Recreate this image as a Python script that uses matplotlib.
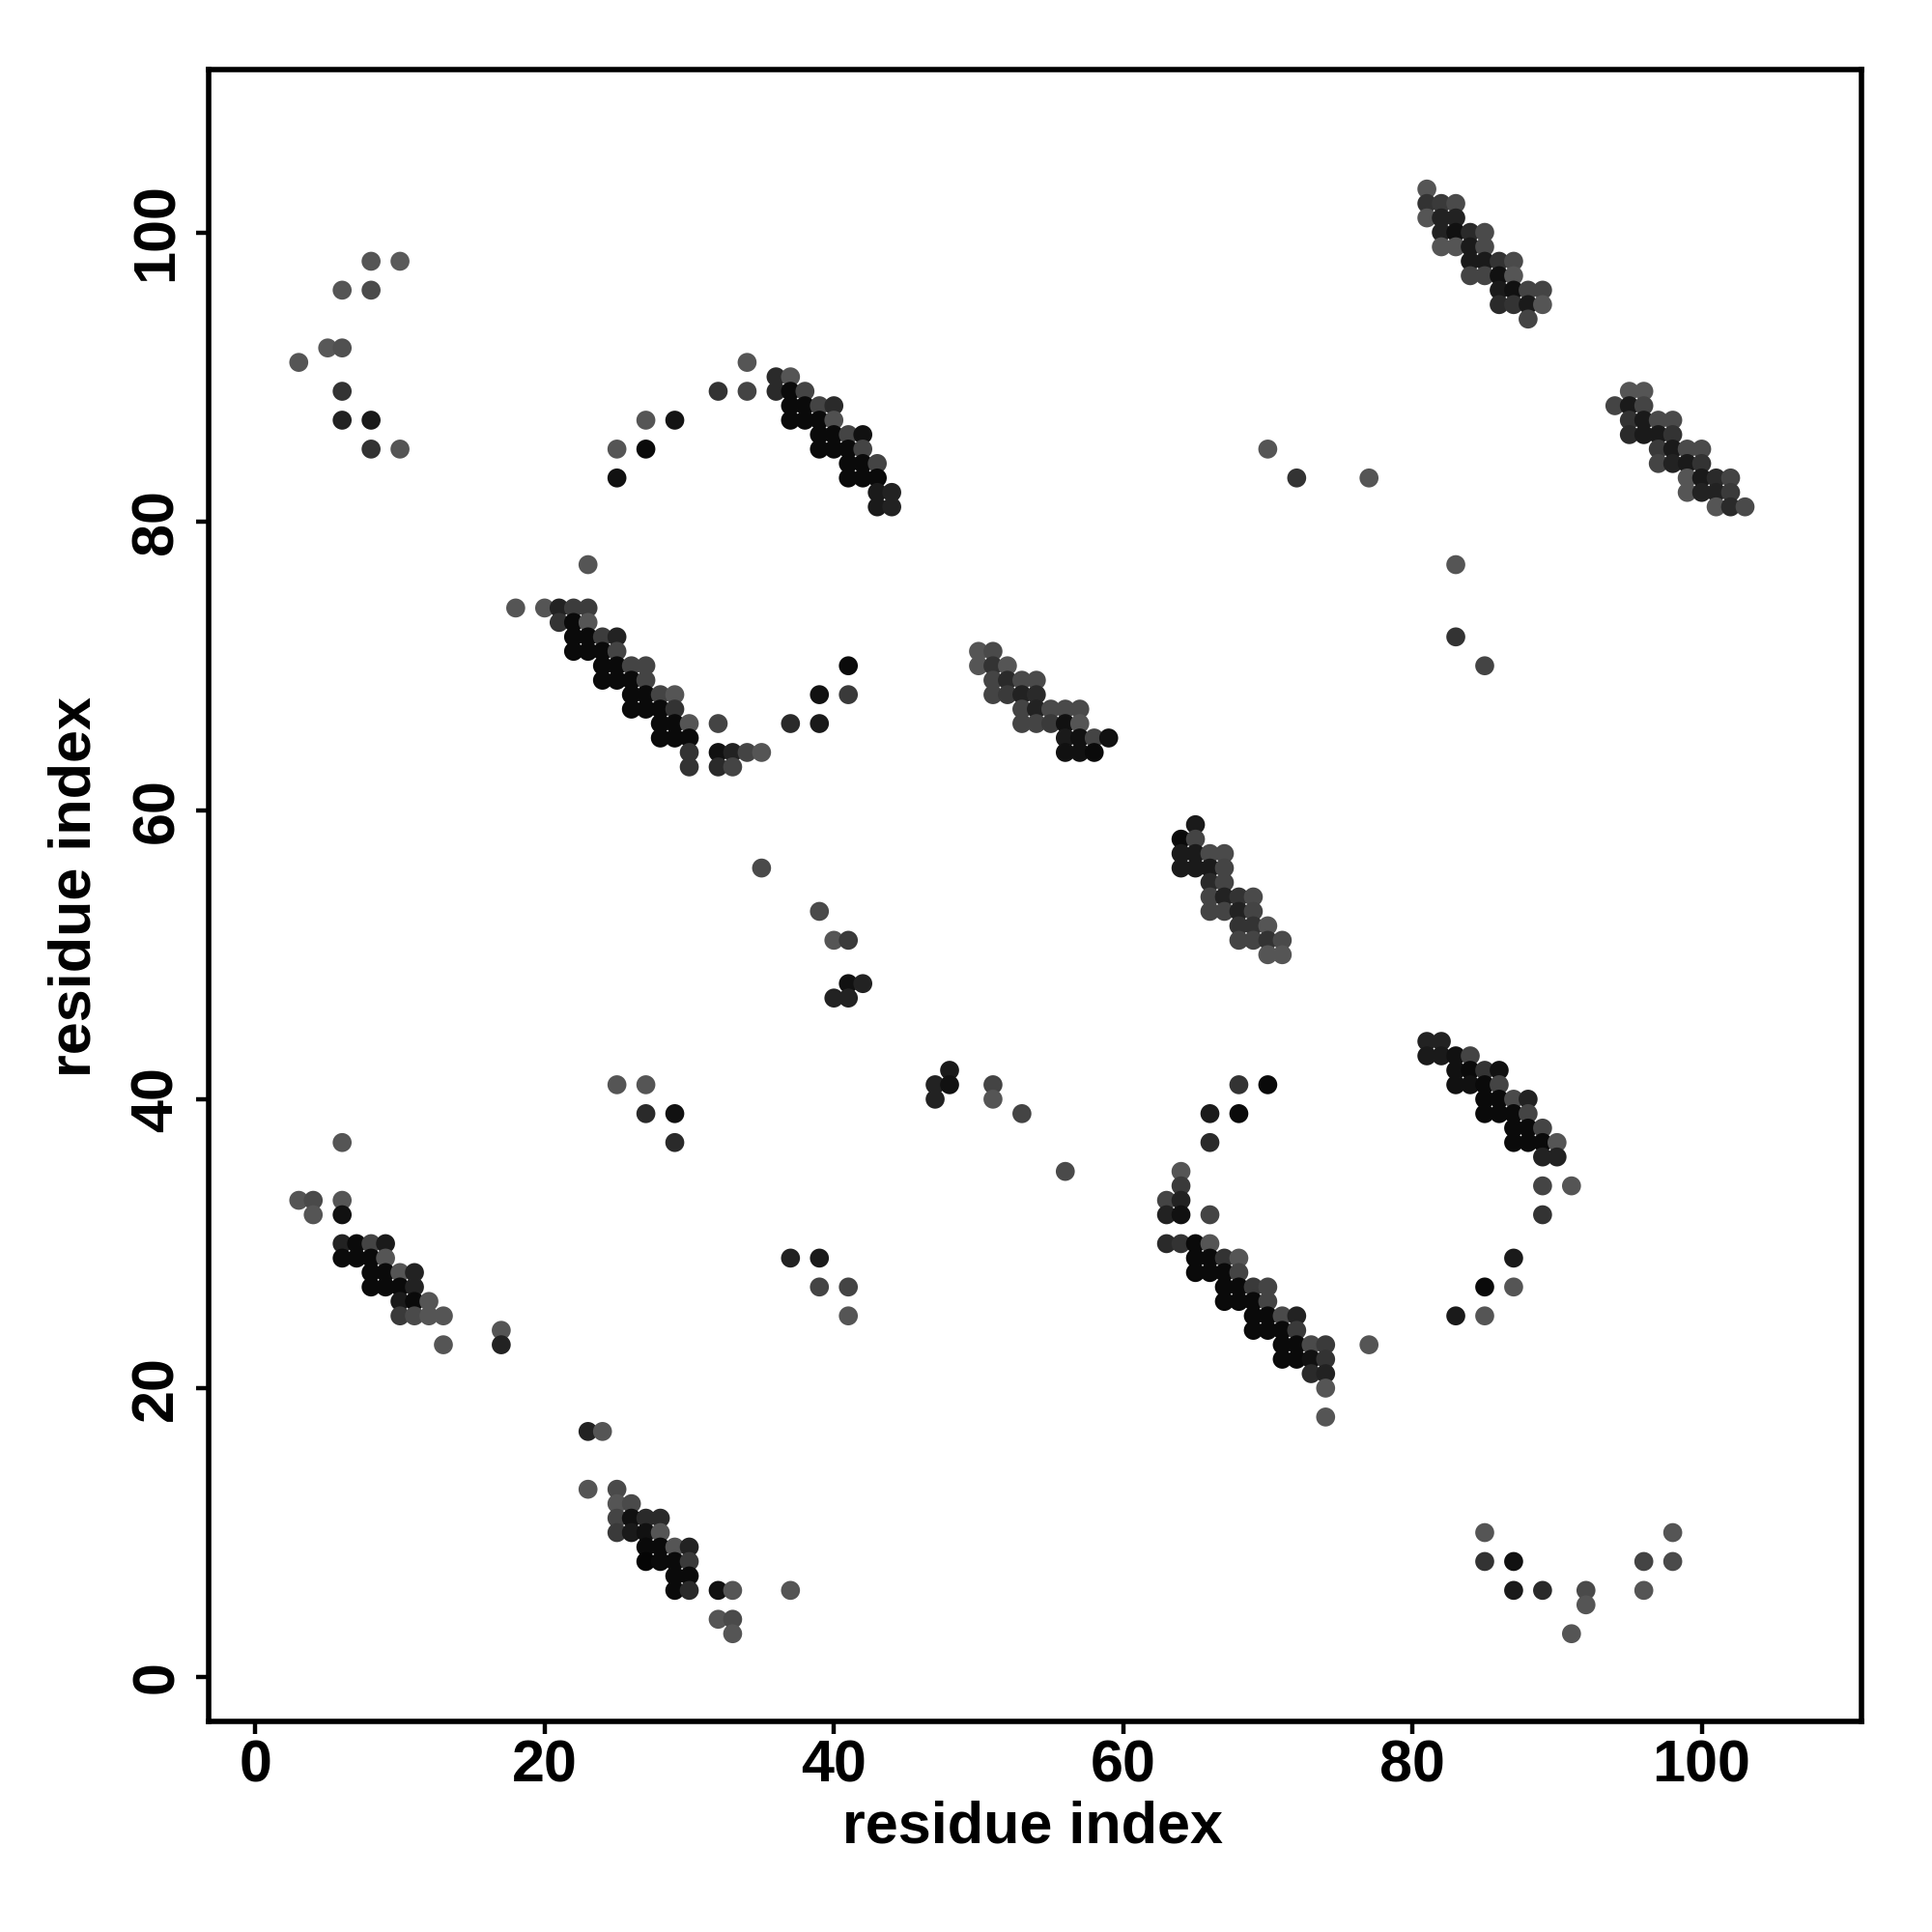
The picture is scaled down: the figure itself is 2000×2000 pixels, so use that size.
import matplotlib
matplotlib.use("Agg")
import matplotlib.pyplot as plt

# Contacts: (residue i, residue j, gray level 0-255)
top_left = [(8,98,85),(10,98,90),(6,96,85),(8,96,75),(5,92,88),(6,92,80),(3,91,85),
            (6,89,51),(6,87,34),(8,87,26),(8,85,51),(10,85,85)]

strand_a = [(23,77,85),(18,74,85),(20,74,85),(21,74,34),(22,74,60),(23,74,60),
            (21,73,51),(22,73,10),(23,73,85),
            (22,72,10),(23,72,10),(24,72,60),(25,72,34),
            (22,71,10),(23,71,10),(24,71,10),(25,71,68),
            (24,70,10),(25,70,10),(26,70,68),(27,70,68),
            (24,69,10),(25,69,10),(26,69,10),(27,69,68),
            (26,68,10),(27,68,10),(28,68,68),(29,68,85),
            (26,67,10),(27,67,10),(28,67,10),(29,67,51),
            (28,66,10),(29,66,10),(30,66,85),
            (28,65,10),(29,65,10),(30,65,10),
            (30,64,51),(30,63,51)]

strand_a_tail = [(32,66,68),(32,64,17),(33,64,34),(34,64,68),(35,64,85),(32,63,42),(33,63,68),
                 (37,66,42),(39,66,26),(39,68,17),(41,68,58),(41,70,10)]

strand_b = [(34,91,85),(32,89,51),(34,89,68),(36,90,42),(37,90,85),(36,89,42),(37,89,10),(38,89,68),
            (37,88,10),(38,88,10),(39,88,68),(40,88,42),
            (37,87,10),(38,87,10),(39,87,10),(40,87,80),
            (39,86,10),(40,86,10),(41,86,68),(42,86,17),
            (39,85,10),(40,85,10),(41,85,10),(42,85,68),
            (41,84,10),(42,84,10),(43,84,68),
            (41,83,10),(42,83,10),(43,83,10),
            (43,82,26),(44,82,34),(43,81,26),(44,81,34),
            (25,85,85),(25,83,17),(27,87,85),(27,85,10),(29,87,20)]

strand_c = [(50,71,85),(51,71,74),(50,70,85),(51,70,51),(52,70,85),
            (51,69,68),(52,69,42),(53,69,74),(54,69,74),
            (51,68,68),(52,68,58),(53,68,34),(54,68,42),
            (53,67,68),(54,67,34),(55,67,74),(56,67,74),(57,67,74),
            (53,66,68),(54,66,68),(55,66,58),(56,66,17),(57,66,85),
            (56,65,26),(57,65,17),(58,65,68),(59,65,17),
            (56,64,17),(57,64,17),(58,64,10)]

strand_d = [(65,59,26),(64,58,10),(65,58,68),(64,57,26),(65,57,26),(66,57,74),(67,57,74),
            (64,56,26),(65,56,26),(66,56,26),(67,56,68),(66,55,42),(67,55,68),
            (66,54,68),(67,54,34),(68,54,51),(69,54,74),
            (66,53,68),(67,53,68),(68,53,34),(69,53,68),
            (68,52,51),(69,52,51),(70,52,85),
            (68,51,68),(69,51,68),(70,51,51),(71,51,74),
            (70,50,85),(71,50,85)]

strand_e = [(81,103,85),(81,102,51),(82,102,58),(83,102,74),(81,101,85),(82,101,34),(83,101,34),
            (82,100,34),(83,100,17),(84,100,42),(85,100,74),
            (82,99,85),(83,99,85),(84,99,26),(85,99,74),
            (84,98,26),(85,98,26),(86,98,51),(87,98,74),
            (84,97,68),(85,97,68),(86,97,17),(87,97,85),
            (86,96,26),(87,96,17),(88,96,68),(89,96,68),
            (86,95,42),(87,95,51),(88,95,26),(89,95,85),(88,94,68)]

strand_f = [(95,89,85),(96,89,85),(94,88,68),(95,88,26),(96,88,68),
            (95,87,51),(96,87,26),(97,87,74),(98,87,74),
            (95,86,42),(96,86,26),(97,86,26),(98,86,51),
            (97,85,58),(98,85,26),(99,85,74),(100,85,74),
            (97,84,68),(98,84,34),(99,84,26),(100,84,51),
            (99,83,85),(100,83,26),(101,83,42),(102,83,68),
            (99,82,85),(100,82,34),(101,82,34),(102,82,58),
            (101,81,85),(102,81,42),(103,81,74)]

scatter_upper = [(70,85,85),(72,83,51),(77,83,85),(83,77,85),(83,72,51),(85,70,68)]

scatter_mid = [(35,56,74),(39,53,74),(40,51,85),(41,51,58),(41,48,17),(42,48,34),(40,47,34),(41,47,34),
               (48,42,26),(47,41,34),(48,41,17),(47,40,34),(51,41,68),(51,40,85),(53,39,68),(56,35,74),
               (37,29,34),(39,29,26),(39,27,68),(41,27,68),(41,25,85)]

strand_g = [(25,41,85),(27,41,85),(27,39,42),(29,39,17),(29,37,42),
            (6,37,85),(3,33,85),(4,33,74),(6,33,85),(4,32,85),(6,32,17),
            (6,30,34),(7,30,10),(8,30,68),(9,30,26),
            (6,29,10),(7,29,10),(8,29,10),(9,29,85),
            (8,28,10),(9,28,10),(10,28,85),(11,28,34),
            (8,27,10),(9,27,10),(10,27,10),(11,27,34),
            (10,26,26),(11,26,10),(12,26,85),
            (10,25,58),(11,25,74),(12,25,85),(13,25,85),
            (13,23,85),(17,24,85),(17,23,34)]

strand_h = [(23,17,34),(24,17,85),(23,13,85),(25,13,74),(25,12,85),(26,12,74),
            (25,11,68),(26,11,17),(27,11,42),(28,11,42),
            (25,10,58),(26,10,26),(27,10,17),(28,10,85),
            (27,9,10),(28,9,10),(29,9,85),(30,9,34),
            (27,8,5),(28,8,10),(29,8,10),(30,8,58),
            (29,7,10),(30,7,10),(29,6,10),(30,6,42),
            (32,6,17),(33,6,85),(37,6,85),(32,4,85),(33,4,74),(33,3,85)]

strand_i = [(68,41,51),(70,41,10),(66,39,26),(68,39,10),(66,37,42),
            (64,35,85),(64,34,58),(63,33,68),(64,33,34),(63,32,34),(64,32,17),(66,32,68),
            (63,30,42),(64,30,51),(65,30,10),(66,30,85),
            (65,29,10),(66,29,10),(67,29,51),(68,29,85),
            (65,28,10),(66,28,10),(67,28,10),(68,28,68),
            (67,27,10),(68,27,10),(69,27,58),(70,27,68),
            (67,26,10),(68,26,10),(69,26,10),(70,26,68),
            (69,25,10),(70,25,10),(71,25,74),(72,25,34),
            (69,24,10),(70,24,10),(71,24,10),(72,24,58),
            (71,23,10),(72,23,10),(73,23,74),(74,23,58),
            (71,22,10),(72,22,10),(73,22,17),(74,22,51),
            (73,21,42),(74,21,34),(74,20,85),(74,18,85),(77,23,85)]

strand_j = [(81,44,34),(82,44,34),(81,43,26),(82,43,26),(83,43,17),(84,43,68),
            (83,42,17),(84,42,10),(85,42,51),(86,42,17),
            (83,41,17),(84,41,17),(85,41,10),(86,41,68),
            (85,40,10),(86,40,10),(87,40,74),(88,40,34),
            (85,39,10),(86,39,10),(87,39,10),(88,39,68),
            (87,38,10),(88,38,10),(89,38,68),
            (87,37,10),(88,37,10),(89,37,10),(90,37,85),
            (89,36,34),(90,36,34),(89,34,68),(91,34,85),(89,32,51),
            (87,29,26),(85,27,10),(87,27,85),(83,25,26),(85,25,85)]

scatter_low = [(85,10,85),(85,8,51),(87,8,17),(87,6,26),(89,6,42),(92,6,74),(92,5,85),
               (91,3,85),(96,8,68),(98,8,74),(98,10,85),(96,6,85)]

groups = [top_left, strand_a, strand_a_tail, strand_b, strand_c, strand_d, strand_e,
          strand_f, scatter_upper, scatter_mid, strand_g, strand_h, strand_i,
          strand_j, scatter_low]

ticks = [0, 20, 40, 60, 80, 100]
axis_label = "residue index"

pts = [p for g in groups for p in g]
pts.sort(key=lambda p: (p[0], -p[1]))
xs = [p[0] for p in pts]
ys = [p[1] for p in pts]
cols = [(p[2] / 255.0,) * 3 for p in pts]

plt.rcParams['font.family'] = ['Liberation Sans', 'DejaVu Sans']
fig = plt.figure(figsize=(10, 10), dpi=200)
ax = fig.add_axes([0.108, 0.109, 0.9635 - 0.108, 0.964 - 0.109])
ax.scatter(xs, ys, s=50, c=cols, marker='o', linewidths=0)

ax.set_xlim(-3.23, 111.05)
ax.set_ylim(-3.07, 111.27)
ax.set_xticks(ticks)
ax.set_yticks(ticks)
ax.set_xticklabels([str(t) for t in ticks], fontsize=22, fontweight='bold')
ax.set_yticklabels([str(t) for t in ticks], fontsize=22, fontweight='bold',
                   rotation=90, va='center')
ax.tick_params(direction='out', length=4.7, width=1.6, pad=2)
ax.tick_params(axis='y', pad=4)
for sp in ax.spines.values():
    sp.set_linewidth(2.0)

ax.set_xlabel(axis_label, fontsize=22, fontweight='bold')
ax.set_ylabel(axis_label, fontsize=22, fontweight='bold')
ax.xaxis.set_label_coords(0.4985, -0.0643)
ax.yaxis.set_label_coords(-0.0805, 0.505)
ax.xaxis.label.set_va('center')
ax.yaxis.label.set_va('center')

fig.savefig("out.png", dpi=200, facecolor='white')
